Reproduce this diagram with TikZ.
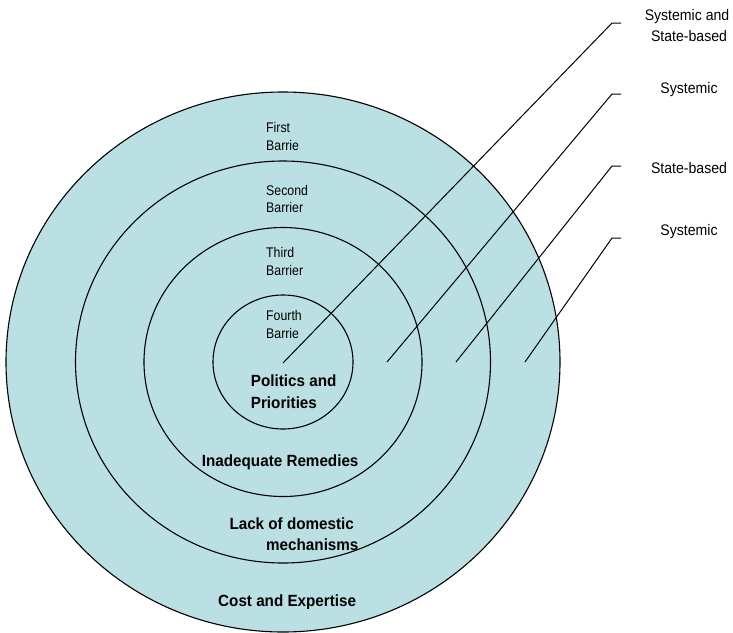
\documentclass[tikz,border=0pt]{standalone}
\usepackage{fontspec}
\setmainfont{Liberation Sans}
\newfontfamily\barfont[FakeStretch=0.88]{Liberation Sans}
\newfontfamily\sidefont[FakeStretch=0.92]{Liberation Sans}
\newfontfamily\boldfont[FakeStretch=0.94]{Liberation Sans}
\definecolor{ringfill}{RGB}{187,224,227}
\begin{document}
\begin{tikzpicture}[x=1pt,y=-1pt,
  ring/.style={draw=black,line width=1.1pt,fill=ringfill},
  leader/.style={draw=black,line width=1pt},
  barlabel/.style={anchor=base west,inner sep=0pt,font=\barfont\fontsize{14}{16}\selectfont},
  boldlabel/.style={anchor=base west,inner sep=0pt,font=\boldfont\fontsize{16.2}{18}\selectfont\bfseries},
  sidelabel/.style={anchor=base,inner sep=0pt,font=\sidefont\fontsize{15.3}{17}\selectfont}]
\useasboundingbox (0,0) rectangle (733,632);
% rings
\coordinate (c) at (283,362);
\draw[ring] (c) ellipse [x radius=277pt,y radius=270pt];
\draw[ring] (c) ellipse [x radius=207.5pt,y radius=201pt];
\draw[ring] (c) ellipse [x radius=139pt,y radius=134.5pt];
\draw[ring] (c) ellipse [x radius=70pt,y radius=67pt];
% leader lines
\coordinate (s1) at (283,363); \coordinate (k1) at (612,23);  \coordinate (e1) at (621,23);
\coordinate (s2) at (387,362); \coordinate (k2) at (612,94);  \coordinate (e2) at (621,94);
\coordinate (s3) at (456,362); \coordinate (k3) at (612,166); \coordinate (e3) at (621,166);
\coordinate (s4) at (525,362); \coordinate (k4) at (612,238); \coordinate (e4) at (621,238);
\draw[leader] (s1) -- (k1) -- (e1);
\draw[leader] (s2) -- (k2) -- (e2);
\draw[leader] (s3) -- (k3) -- (e3);
\draw[leader] (s4) -- (k4) -- (e4);
% barrier labels
\node[barlabel] (b1a) at (266,132) {First};
\node[barlabel] (b1b) at (266,150) {Barrie};
\node[barlabel] (b2a) at (266,195) {Second};
\node[barlabel] (b2b) at (266,212.7) {Barrier};
\node[barlabel] (b3a) at (266,257.7) {Third};
\node[barlabel] (b3b) at (266,275.7) {Barrier};
\node[barlabel] (b4a) at (266,320.7) {Fourth};
\node[barlabel] (b4b) at (266,338.5) {Barrie};
% bold labels
\node[boldlabel] (p1) at (250.7,386.7) {Politics and};
\node[boldlabel] (p2) at (250.7,408.3) {Priorities};
\node[boldlabel] (ir) at (201.7,466) {Inadequate Remedies};
\node[boldlabel] (ld1) at (229.3,529) {Lack of domestic};
\node[boldlabel] (ld2) at (266,550.5) {mechanisms};
\begin{scope}
\clip (0,0) rectangle (733,608.5);
\node[boldlabel] (ce) at (218,606.7) {Cost and Expertise};
\end{scope}
% side labels
\node[sidelabel] (r1a) at (687,20.7) {Systemic and};
\node[sidelabel] (r1b) at (689,41.7) {State-based};
\node[sidelabel] (r2) at (689,93.3) {Systemic};
\node[sidelabel] (r3) at (689,173) {State-based};
\node[sidelabel] (r4) at (689,235) {Systemic};
\end{tikzpicture}
\end{document}
